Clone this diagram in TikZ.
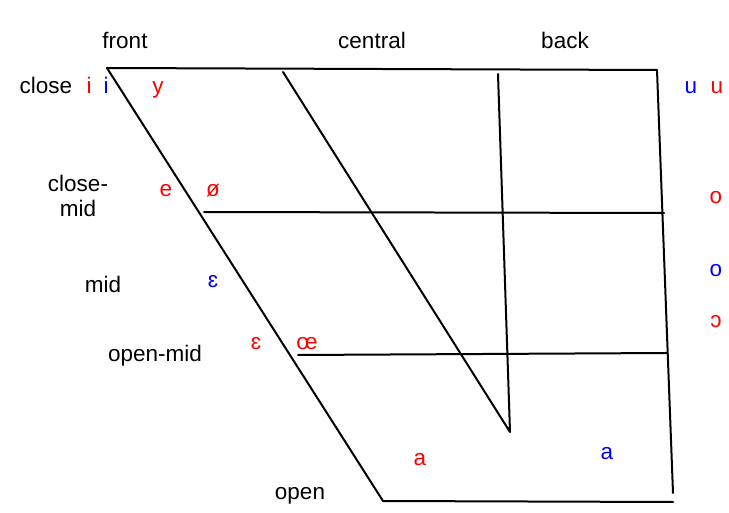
\documentclass[tikz,border=0pt]{standalone}
\usepackage{fontspec}
\setmainfont{Liberation Sans}
\begin{document}
\begin{tikzpicture}[x=1pt,y=-1pt,
  lbl/.style={font=\fontsize{22.5}{25}\selectfont, inner sep=0pt, anchor=base},
  red/.style={lbl, text=red},
  blu/.style={lbl, text=blue},
  ln/.style={line width=2pt, black, line cap=round, line join=round}]
\useasboundingbox (0,0) rectangle (729,513);
% corners
\coordinate (FT) at (107,68);
\coordinate (BT) at (657,70);
\coordinate (BB) at (673,493);
\coordinate (FB) at (383,501);
\coordinate (BBb) at (673,502);
\coordinate (CT) at (283,72);
\coordinate (KT) at (498,74);
\coordinate (V) at (510,432);
\coordinate (CM1) at (204,212);
\coordinate (CM2) at (664,213);
\coordinate (OM1) at (298,355);
\coordinate (OM2) at (667,353);
\draw[ln] (FT) -- (BT) -- (BB);
\draw[ln] (FT) -- (FB);
\draw[ln] (FB) -- (BBb);
\draw[ln] (CT) -- (V) -- (KT);
\draw[ln] (CM1) -- (CM2);
\draw[ln] (OM1) -- (OM2);
% headings
\node[lbl] (front) at (125,49) {front};
\node[lbl] (central) at (372,49) {central};
\node[lbl] (back) at (565,49) {back};
\node[lbl] (close) at (46,94) {close};
\node[lbl] (closemidA) at (78,192) {close-};
\node[lbl] (closemidB) at (78,217) {mid};
\node[lbl] (mid) at (103,293) {mid};
\node[lbl] (openmid) at (155,362) {open-mid};
\node[lbl] (open) at (300,499) {open};
% vowels
\node[red] (i1) at (89,94) {i};
\node[blu] (i2) at (106,94) {i};
\node[red] (y) at (158,94) {y};
\node[blu] (u1) at (691,94) {u};
\node[red] (u2) at (717,94) {u};
\node[red] (e) at (166,197) {e};
\node[red] (oslash) at (213,197) {ø};
\node[red] (o1) at (716,204) {o};
\node[blu] (eps1) at (213,288) {ɛ};
\node[blu] (o2) at (716,277) {o};
\node[red] (oo) at (716,327) {ɔ};
\node[red] (eps2) at (256,350) {ɛ};
\node[red] (oe) at (307,350) {œ};
\node[red] (a1) at (420,465) {a};
\node[blu] (a2) at (607,459) {a};
\end{tikzpicture}
\end{document}
